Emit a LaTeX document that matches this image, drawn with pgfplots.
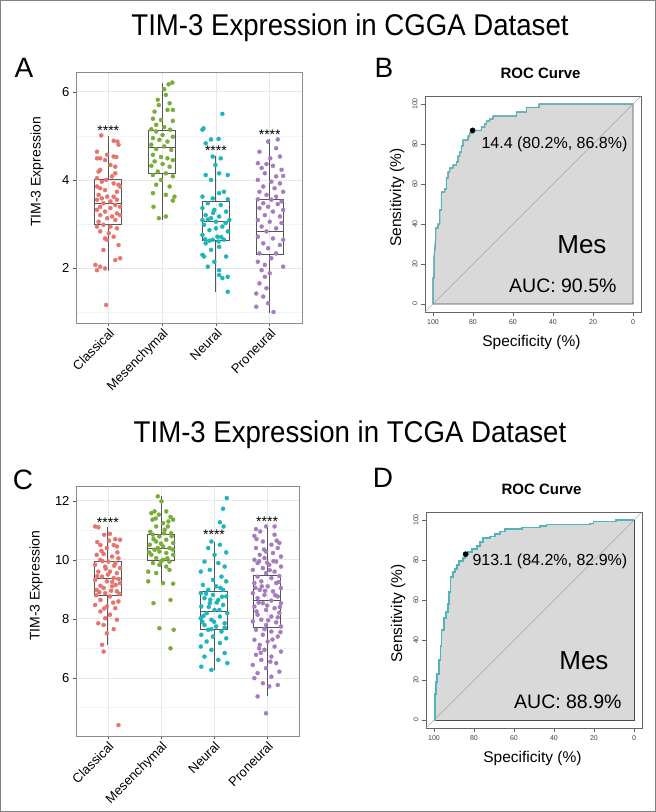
\documentclass[border=0pt]{standalone}
\usepackage{pgfplots}
\pgfplotsset{compat=1.18}
\usepgfplotslibrary{statistics}
\usepackage{fontspec}
\setmainfont{Liberation Sans}
\definecolor{cls}{RGB}{232,115,108}
\definecolor{mes}{RGB}{122,172,58}
\definecolor{neu}{RGB}{27,181,188}
\definecolor{pro}{RGB}{165,124,192}
\definecolor{boxline}{RGB}{85,85,85}
\definecolor{gridmaj}{RGB}{232,232,232}
\definecolor{gridmin}{RGB}{244,244,244}
\definecolor{panelborder}{RGB}{140,140,140}
\definecolor{roccurve}{RGB}{80,180,186}
\definecolor{rocfill}{RGB}{217,217,217}
\definecolor{rocbox}{RGB}{100,100,100}
\definecolor{framecol}{RGB}{128,128,128}
\newcommand{\tlfont}{\fontsize{13}{15}\selectfont}
\pgfplotsset{
  /pgf/number format/assume math mode=true,
  ggbox/.style={
    scale only axis, xmin=0.4, xmax=4.6,
    xtick={1,2,3,4}, xticklabels={Classical,Mesenchymal,Neural,Proneural},
    grid=both, major grid style={gridmaj, line width=0.7pt}, minor grid style={gridmin, line width=0.4pt},
    axis line style={panelborder, line width=0.7pt},
    tick align=outside, xtick pos=bottom, ytick pos=left,
    major tick length=3pt, minor tick length=0pt,
    tick style={boxline, line width=0.5pt},
    xticklabel style={rotate=45, anchor=north east, font=\tlfont, inner sep=1pt},
    yticklabel style={font=\tlfont},
    boxplot/draw direction=y,
  },
  bp/.style={boxplot prepared={#1, box extend=0.5, whisker extend=0}, draw=boxline, line width=0.85pt, solid, mark=none, fill=none},
  dots/.style={only marks, mark=*, mark size=2pt, color=#1, mark options={draw=none, fill=#1}},
  roc/.style={
    scale only axis, width=216pt, height=216pt,
    x dir=reverse, xmin=-4, xmax=104, ymin=-4, ymax=104,
    xtick={0,20,...,100}, ytick={0,20,...,100},
    tick align=outside, xtick pos=bottom, ytick pos=left, major tick length=4pt,
    axis line style={rocbox, line width=0.7pt}, tick style={rocbox, line width=0.5pt},
    ticklabel style={font=\fontsize{7}{8}\selectfont, text=black!75},
    yticklabel style={rotate=90, anchor=south},
    xlabel={Specificity (\%)}, ylabel={Sensitivity (\%)}, title={ROC Curve},
    xlabel style={at={(axis description cs:0.493,-0.139)}, anchor=center, font=\fontsize{15.5}{18}\selectfont},
    ylabel style={at={(axis description cs:-0.129,0.53)}, anchor=center, font=\fontsize{15.5}{18}\selectfont},
    title style={at={(axis description cs:0.535,1.077)}, anchor=center, font=\bfseries\fontsize{15}{18}\selectfont},
  },
}
\begin{document}
\begin{tikzpicture}[x=1pt,y=1pt]
\path[use as bounding box] (0pt,0pt) rectangle (656pt,-812pt);
\draw[framecol, line width=1pt] (0.5pt,-0.5pt) rectangle (655.5pt,-811.5pt);
\node[anchor=base] at (350pt,-35pt) {\scalebox{0.92}[1]{\fontsize{30}{34}\selectfont TIM-3 Expression in CGGA Dataset}};
\node[anchor=base] at (350pt,-442pt) {\scalebox{0.92}[1]{\fontsize{30}{34}\selectfont TIM-3 Expression in TCGA Dataset}};
\node[font=\fontsize{28}{32}\selectfont] at (24pt,-68pt) {A};
\node[font=\fontsize{28}{32}\selectfont] at (384pt,-68pt) {B};
\node[font=\fontsize{28}{32}\selectfont] at (23pt,-480pt) {C};
\node[font=\fontsize{28}{32}\selectfont] at (383pt,-478pt) {D};

% ---------------- Panel A ----------------
\begin{axis}[ggbox, at={(76pt,-323pt)}, anchor=south west, width=226pt, height=251pt,
  ymin=0.75, ymax=6.45, ytick={2,4,6}, minor ytick={1,3,5},
  ylabel={TIM-3 Expression},
  ylabel style={at={(axis description cs:-0.1726,0.6016)}, anchor=center, font=\fontsize{14}{16}\selectfont}]
\addplot[dots=cls] coordinates {(0.87,5.01)(1.10,4.89)(1.17,4.87)(0.79,4.64)(1.19,4.80)(0.98,4.57)(1.10,4.53)(0.79,4.49)(0.85,4.49)(1.15,4.52)(0.94,4.45)(1.04,4.34)(1.13,4.30)(0.85,4.23)(0.82,4.19)(1.13,4.15)(0.79,4.04)(1.07,4.08)(0.96,4.00)(0.88,3.96)(1.10,3.92)(1.19,3.89)(0.79,3.85)(0.85,3.81)(1.22,3.85)(0.94,3.77)(1.16,3.73)(0.82,3.66)(0.98,3.62)(0.88,3.58)(1.10,3.62)(0.79,3.55)(1.04,3.51)(1.16,3.55)(0.91,3.47)(1.13,3.43)(0.85,3.39)(1.22,3.39)(1.04,3.36)(0.79,3.32)(0.94,3.28)(1.16,3.24)(0.85,3.20)(1.07,3.17)(1.22,3.20)(0.98,3.13)(0.82,3.05)(1.13,3.09)(0.91,2.98)(1.04,2.94)(0.79,2.94)(1.16,2.90)(0.85,2.83)(1.01,2.79)(0.94,2.67)(1.10,2.71)(0.98,2.64)(1.19,2.52)(0.91,2.41)(1.22,2.22)(1.13,2.18)(0.76,2.07)(0.85,2.03)(0.94,1.99)(0.79,1.95)(0.96,1.16)};
\addplot[dots=mes] coordinates {(2.19,6.21)(2.12,6.17)(2.04,6.06)(2.07,5.93)(1.92,5.82)(2.14,5.74)(1.94,5.70)(1.86,5.55)(2.10,5.59)(2.20,5.59)(1.83,5.39)(1.98,5.36)(2.20,5.34)(1.89,5.25)(2.04,5.20)(1.80,5.15)(2.15,5.14)(1.89,5.10)(2.01,5.02)(2.20,4.98)(1.83,4.95)(1.95,4.91)(2.10,4.87)(1.80,4.80)(2.04,4.76)(1.89,4.70)(2.17,4.68)(1.83,4.57)(1.98,4.52)(2.10,4.49)(2.20,4.45)(1.86,4.42)(2.01,4.36)(1.80,4.32)(2.14,4.30)(1.92,4.19)(2.07,4.15)(1.83,4.11)(2.20,4.08)(1.98,4.00)(1.89,3.89)(2.14,3.85)(1.83,3.70)(2.07,3.66)(2.23,3.62)(1.84,3.39)(2.07,3.17)(2.20,3.53)(1.94,3.13)};
\addplot[dots=neu] coordinates {(3.12,5.50)(2.77,5.17)(2.75,5.14)(2.91,4.92)(3.05,4.93)(2.81,4.83)(2.94,4.53)(3.09,4.49)(2.99,4.34)(2.81,4.11)(3.06,4.15)(3.22,4.11)(2.91,4.00)(3.15,3.73)(3.06,3.70)(2.75,3.62)(2.94,3.58)(3.22,3.56)(2.85,3.47)(3.09,3.43)(2.75,3.36)(2.97,3.32)(3.19,3.28)(2.81,3.20)(3.06,3.17)(2.91,3.13)(2.75,3.09)(3.25,3.09)(3.00,3.05)(2.78,2.98)(3.12,2.94)(2.88,2.86)(3.22,2.83)(2.75,2.75)(3.03,2.71)(2.94,2.64)(3.15,2.64)(2.81,2.56)(3.06,2.48)(2.91,2.41)(2.75,2.30)(2.78,2.26)(3.19,2.26)(2.97,2.14)(2.85,2.03)(3.06,1.95)(3.22,1.80)(3.12,1.77)(3.06,1.84)(3.22,1.46)(2.85,3.10)(3.00,2.90)(3.10,2.70)(2.80,2.65)(3.18,3.02)(2.95,3.25)(2.88,2.62)(3.05,2.60)};
\addplot[dots=pro] coordinates {(4.15,4.92)(3.97,4.87)(3.81,4.64)(4.12,4.72)(4.01,4.49)(4.19,4.53)(3.78,4.38)(3.94,4.36)(4.06,4.32)(3.85,4.27)(4.22,4.23)(3.91,4.15)(4.12,4.08)(4.25,4.09)(3.78,4.00)(4.03,3.96)(4.19,3.92)(3.88,3.85)(4.09,3.81)(3.81,3.73)(4.25,3.73)(3.94,3.66)(4.12,3.62)(3.78,3.56)(4.03,3.55)(4.22,3.51)(3.88,3.47)(4.15,3.45)(3.97,3.39)(3.81,3.36)(4.25,3.32)(4.06,3.28)(3.91,3.20)(4.19,3.17)(3.78,3.09)(4.00,3.05)(4.22,3.02)(3.85,2.94)(4.12,2.90)(3.94,2.83)(3.78,2.71)(4.06,2.67)(4.25,2.64)(3.88,2.56)(4.19,2.52)(3.97,2.45)(3.81,2.33)(4.12,2.33)(4.03,2.22)(3.78,2.14)(3.91,2.07)(4.25,2.03)(3.85,1.95)(4.00,1.88)(3.91,1.80)(3.81,1.65)(3.94,1.54)(3.75,1.42)(3.88,1.35)(3.97,1.20)(3.75,1.12)(4.07,1.00)};
\addplot[bp={draw position=1, lower whisker=1.93, lower quartile=3.00, median=3.47, upper quartile=4.00, upper whisker=5.00}] coordinates {};
\addplot[bp={draw position=2, lower whisker=3.10, lower quartile=4.15, median=4.73, upper quartile=5.12, upper whisker=6.21}] coordinates {};
\addplot[bp={draw position=3, lower whisker=1.46, lower quartile=2.62, median=3.05, upper quartile=3.50, upper whisker=4.55}] coordinates {};
\addplot[bp={draw position=4, lower whisker=0.98, lower quartile=2.30, median=2.82, upper quartile=3.55, upper whisker=4.92}] coordinates {};
\node[font=\fontsize{14}{16}\selectfont] at (axis cs:1,5.12) {****};
\node[font=\fontsize{14}{16}\selectfont] at (axis cs:3,4.67) {****};
\node[font=\fontsize{14}{16}\selectfont] at (axis cs:4,5.03) {****};
\end{axis}

% ---------------- Panel B ----------------
\begin{axis}[roc, at={(425pt,-312pt)}, anchor=south west]
\addplot[fill=rocfill, draw=black!70, line width=0.8pt] coordinates {(100,0)(100,13)(99.5,13)(99.5,23)(99,28)(98.7,33)(98.7,38)(97.5,38)(97.5,40)(96.7,40)(96.7,47)(95.8,47)(95.8,56)(94.2,56)(94.2,57.5)(93.3,57.5)(93.3,63)(92.5,63)(92.5,66)(91.7,66)(91.7,68)(90,68)(90,69.5)(88.3,69.5)(88.3,71)(87.5,71)(87.5,74)(86.7,74)(86.7,76)(85.8,76)(85.8,79)(85,79)(85,82)(82.5,82)(82.5,84)(81.7,84)(81.7,85.5)(80.2,85.5)(80.2,86.8)(75.8,86.8)(75.8,88.5)(74.2,88.5)(74.2,90)(73.3,90)(73.3,91.5)(71.7,91.5)(71.7,92.5)(70,92.5)(70,94)(58.3,94)(58.3,96)(53.3,96)(53.3,98.3)(47,98.3)(47,100)(0,100)(0,0)} -- cycle;
\addplot[black!40, line width=0.35pt] coordinates {(104,-4)(-4,104)};
\addplot[roccurve, line width=1.1pt] coordinates {(100,0)(100,13)(99.5,13)(99.5,23)(99,28)(98.7,33)(98.7,38)(97.5,38)(97.5,40)(96.7,40)(96.7,47)(95.8,47)(95.8,56)(94.2,56)(94.2,57.5)(93.3,57.5)(93.3,63)(92.5,63)(92.5,66)(91.7,66)(91.7,68)(90,68)(90,69.5)(88.3,69.5)(88.3,71)(87.5,71)(87.5,74)(86.7,74)(86.7,76)(85.8,76)(85.8,79)(85,79)(85,82)(82.5,82)(82.5,84)(81.7,84)(81.7,85.5)(80.2,85.5)(80.2,86.8)(75.8,86.8)(75.8,88.5)(74.2,88.5)(74.2,90)(73.3,90)(73.3,91.5)(71.7,91.5)(71.7,92.5)(70,92.5)(70,94)(58.3,94)(58.3,96)(53.3,96)(53.3,98.3)(47,98.3)(47,100)(0,100)};
\addplot[only marks, mark=*, mark size=2.6pt, black] coordinates {(80.2,86.8)};
\node[anchor=west, font=\fontsize{16}{19}\selectfont] at (axis cs:77.5,80) {14.4 (80.2\%, 86.8\%)};
\node[anchor=east, font=\fontsize{26}{30}\selectfont] at (axis cs:11.5,29.5) {Mes};
\node[anchor=east, font=\fontsize{19.5}{22}\selectfont] at (axis cs:6.5,9) {AUC: 90.5\%};
\end{axis}

% ---------------- Panel C ----------------
\begin{axis}[ggbox, at={(76pt,-736pt)}, anchor=south west, width=223pt, height=250pt,
  ymin=4.03, ymax=12.5, ytick={6,8,10,12}, minor ytick={5,7,9,11},
  ylabel={TIM-3 Expression},
  ylabel style={at={(axis description cs:-0.179,0.6)}, anchor=center, font=\fontsize{14}{16}\selectfont}]
\addplot[dots=cls] coordinates {(0.76,11.13)(0.82,11.10)(0.93,10.85)(1.04,10.88)(1.23,10.68)(0.86,10.50)(1.11,10.50)(0.98,10.40)(1.17,10.45)(0.79,10.17)(0.92,10.20)(1.08,10.11)(1.20,10.05)(0.86,10.00)(1.01,9.94)(1.14,9.89)(0.76,9.83)(0.95,9.77)(1.23,9.72)(0.82,9.60)(1.04,9.60)(1.17,9.55)(0.89,9.43)(1.11,9.38)(0.76,9.32)(0.98,9.27)(1.23,9.21)(0.86,9.12)(1.08,9.10)(0.79,8.98)(1.17,8.93)(0.95,8.87)(1.04,8.76)(0.86,8.64)(1.20,8.59)(0.76,8.47)(0.98,8.42)(1.14,8.36)(0.86,8.25)(1.04,8.14)(0.95,8.02)(1.17,7.97)(0.82,7.85)(0.92,7.79)(1.11,7.65)(0.98,7.51)(0.89,7.12)(0.92,6.89)(1.20,4.40)(0.90,9.95)(1.12,9.80)(0.80,9.45)(1.00,9.50)(1.20,9.35)(0.92,9.05)(1.15,9.15)(0.84,8.90)(1.06,8.95)(0.96,9.70)(1.18,10.25)(0.88,10.30)(1.02,10.65)(0.78,8.80)(1.10,8.55)(1.22,8.85)(0.93,8.35)(1.08,9.25)(0.80,10.60)(1.14,10.70)};
\addplot[dots=mes] coordinates {(1.94,12.15)(2.01,11.98)(1.88,11.64)(1.82,11.58)(1.96,11.53)(2.10,11.64)(2.18,11.45)(2.23,11.36)(1.84,11.36)(2.04,11.24)(1.91,11.13)(2.13,11.13)(2.07,11.02)(2.19,10.90)(1.85,10.85)(1.97,10.79)(2.10,10.68)(1.91,10.62)(2.23,10.57)(1.79,10.51)(2.04,10.45)(2.16,10.40)(1.88,10.34)(1.97,10.28)(2.10,10.23)(1.82,10.17)(2.23,10.17)(1.91,10.06)(2.04,10.00)(2.16,9.94)(1.85,9.89)(1.97,9.83)(2.10,9.77)(1.76,9.60)(1.91,9.55)(2.16,9.66)(1.76,9.27)(2.04,9.21)(2.23,9.19)(1.86,8.53)(2.18,8.64)(1.97,7.68)(2.24,7.63)(2.18,7.00)(1.80,10.95)(2.00,10.55)(2.20,10.80)(1.94,10.40)(2.12,10.05)(1.86,10.70)(2.06,10.90)(1.78,10.25)(2.00,9.95)(2.22,10.35)(1.90,11.40)(2.14,11.30)};
\addplot[dots=neu] coordinates {(3.24,12.09)(3.17,11.73)(3.11,11.27)(3.18,11.13)(2.95,10.62)(3.11,10.51)(2.89,10.40)(3.23,10.25)(3.01,10.17)(2.82,9.94)(3.08,9.89)(3.20,9.77)(2.92,9.66)(2.75,9.60)(3.14,9.43)(2.98,9.32)(3.23,9.27)(2.79,9.15)(3.04,9.10)(2.89,8.98)(3.17,8.98)(2.75,8.87)(2.98,8.81)(3.23,8.76)(2.82,8.70)(3.08,8.64)(2.92,8.53)(3.17,8.47)(2.76,8.42)(3.01,8.30)(2.86,8.19)(3.25,8.19)(3.11,8.08)(2.75,8.02)(2.95,7.97)(3.20,7.85)(2.82,7.79)(3.04,7.74)(2.89,7.63)(3.14,7.57)(2.76,7.46)(2.98,7.40)(3.23,7.34)(2.86,7.23)(3.11,7.18)(2.75,7.06)(2.95,6.95)(3.20,6.84)(2.82,6.72)(3.08,6.61)(3.25,6.50)(2.76,6.38)(2.95,6.27)(2.90,8.40)(3.10,8.30)(2.80,8.10)(3.00,7.90)(3.15,8.75)(2.85,8.85)(3.05,8.55)(2.95,7.65)(3.20,7.70)(2.78,7.90)(3.12,9.05)(2.93,8.65)};
\addplot[dots=pro] coordinates {(3.79,11.04)(3.87,10.96)(3.98,11.13)(4.14,11.13)(3.76,10.81)(4.23,10.57)(3.92,10.62)(4.08,10.51)(3.79,10.40)(4.20,10.40)(3.98,10.28)(3.86,10.17)(4.11,10.23)(4.26,10.11)(3.76,10.00)(3.95,10.06)(4.17,9.94)(3.82,9.89)(4.04,9.83)(4.26,9.77)(3.92,9.72)(3.73,9.66)(4.14,9.60)(3.98,9.55)(3.82,9.43)(4.23,9.45)(4.08,9.38)(3.89,9.27)(3.76,9.21)(4.17,9.21)(4.01,9.10)(4.26,9.04)(3.86,8.98)(4.11,8.93)(3.73,8.87)(3.95,8.81)(4.20,8.76)(3.82,8.70)(4.08,8.62)(4.26,8.53)(3.92,8.53)(3.76,8.42)(4.14,8.36)(3.98,8.30)(4.23,8.21)(3.82,8.14)(4.08,8.08)(3.89,7.97)(3.73,7.91)(4.17,7.88)(3.98,7.79)(4.26,7.74)(3.79,7.63)(4.08,7.57)(3.92,7.46)(4.20,7.40)(3.76,7.29)(4.01,7.23)(3.86,7.12)(4.14,7.06)(3.95,6.95)(4.26,6.89)(3.79,6.78)(4.08,6.72)(3.89,6.61)(4.17,6.50)(3.73,6.44)(3.98,6.33)(4.23,6.21)(3.82,6.16)(4.08,6.04)(3.76,5.99)(3.92,5.82)(4.20,5.76)(4.04,5.71)(3.82,5.37)(3.98,4.80)(3.85,9.95)(4.05,9.65)(3.90,9.10)(4.15,8.80)(4.00,8.45)(3.80,8.25)(4.20,8.05)(3.95,7.65)(4.10,7.30)(3.85,7.00)(4.00,9.90)(4.22,9.25)(3.78,9.05)(4.12,9.95)(3.94,10.35)(4.18,10.65)(3.84,8.55)(4.02,7.95)(4.25,7.55)(3.88,6.85)(4.06,6.55)(3.80,10.70)(4.14,10.85)(3.96,8.95)(4.24,8.40)};
\addplot[bp={draw position=1, lower whisker=7.12, lower quartile=8.78, median=9.36, upper quartile=9.94, upper whisker=11.11}] coordinates {};
\addplot[bp={draw position=2, lower whisker=9.20, lower quartile=9.97, median=10.40, upper quartile=10.85, upper whisker=12.15}] coordinates {};
\addplot[bp={draw position=3, lower whisker=6.27, lower quartile=7.63, median=8.25, upper quartile=8.93, upper whisker=10.59}] coordinates {};
\addplot[bp={draw position=4, lower whisker=5.37, lower quartile=7.72, median=8.64, upper quartile=9.47, upper whisker=11.11}] coordinates {};
\node[font=\fontsize{14}{16}\selectfont] at (axis cs:1,11.25) {****};
\node[font=\fontsize{14}{16}\selectfont] at (axis cs:3,10.84) {****};
\node[font=\fontsize{14}{16}\selectfont] at (axis cs:4,11.29) {****};
\end{axis}

% ---------------- Panel D ----------------
\begin{axis}[roc, at={(426pt,-728pt)}, anchor=south west]
\addplot[fill=rocfill, draw=black!70, line width=0.8pt] coordinates {(100,0)(99.5,0)(99.5,13)(99,13)(99,19)(98.5,19)(98.5,23)(97.5,23)(97.5,30)(96.8,30)(96.8,37)(96.2,37)(96.2,45)(95,45)(95,51)(94,51)(94,54)(93,54)(93,58)(92.5,58)(92.5,64)(91.8,64)(91.8,71.5)(90.5,71.5)(90.5,74)(89.5,74)(89.5,75.5)(88.5,75.5)(88.5,77.5)(87.5,77.5)(87.5,79.5)(85.5,79.5)(85.5,81)(84.2,81)(84.2,82.9)(83,82.9)(83,84)(81,84)(81,85.5)(78.5,85.5)(78.5,87)(77,87)(77,89)(75.5,89)(75.5,91)(72,91)(72,91.7)(69.5,91.7)(69.5,93)(67,93)(67,94.3)(64.5,94.3)(64.5,95.5)(56,95.5)(56,96.3)(47,96.3)(47,97)(43.7,97)(43.7,97.6)(22,97.6)(22,98.3)(20.3,98.3)(20.3,99.3)(9,99.3)(9,100)(0,100)(0,0)} -- cycle;
\addplot[black!40, line width=0.35pt] coordinates {(104,-4)(-4,104)};
\addplot[roccurve, line width=1.1pt] coordinates {(100,0)(99.5,0)(99.5,13)(99,13)(99,19)(98.5,19)(98.5,23)(97.5,23)(97.5,30)(96.8,30)(96.8,37)(96.2,37)(96.2,45)(95,45)(95,51)(94,51)(94,54)(93,54)(93,58)(92.5,58)(92.5,64)(91.8,64)(91.8,71.5)(90.5,71.5)(90.5,74)(89.5,74)(89.5,75.5)(88.5,75.5)(88.5,77.5)(87.5,77.5)(87.5,79.5)(85.5,79.5)(85.5,81)(84.2,81)(84.2,82.9)(83,82.9)(83,84)(81,84)(81,85.5)(78.5,85.5)(78.5,87)(77,87)(77,89)(75.5,89)(75.5,91)(72,91)(72,91.7)(69.5,91.7)(69.5,93)(67,93)(67,94.3)(64.5,94.3)(64.5,95.5)(56,95.5)(56,96.3)(47,96.3)(47,97)(43.7,97)(43.7,97.6)(22,97.6)(22,98.3)(20.3,98.3)(20.3,99.3)(9,99.3)(9,100)(0,100)};
\addplot[only marks, mark=*, mark size=2.6pt, black] coordinates {(84.2,82.9)};
\node[anchor=west, font=\fontsize{16}{19}\selectfont] at (axis cs:82.5,79.5) {913.1 (84.2\%, 82.9\%)};
\node[anchor=east, font=\fontsize{26}{30}\selectfont] at (axis cs:11,29.5) {Mes};
\node[anchor=east, font=\fontsize{19.5}{22}\selectfont] at (axis cs:4.5,9) {AUC: 88.9\%};
\end{axis}
\end{tikzpicture}
\end{document}
